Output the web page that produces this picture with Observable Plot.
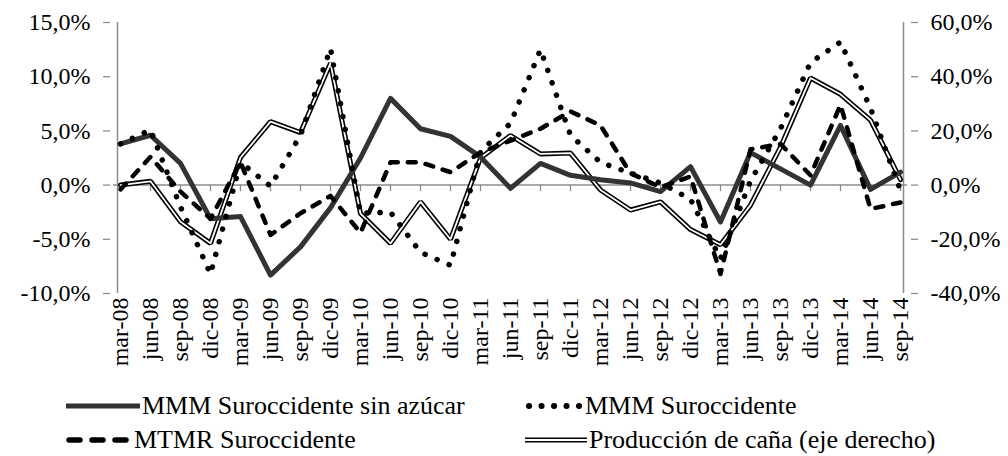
<!DOCTYPE html>
<html>
<head>
<meta charset="utf-8">
<script src="https://cdn.jsdelivr.net/npm/d3@7"></script>
<script src="https://cdn.jsdelivr.net/npm/@observablehq/plot@0.6"></script>
<style>
  html, body { margin: 0; padding: 0; background: #fff; }
  body { width: 1008px; height: 456px; overflow: hidden; font-family: "Liberation Serif", "Times New Roman", serif; }
  #chart { position: relative; width: 1008px; height: 385px; }
  #legend { position: relative; width: 1008px; height: 71px; font-family: "Liberation Serif", serif; font-size: 26px; color: #000; }
  .item { position: absolute; display: flex; align-items: center; white-space: nowrap; height: 30px; line-height: 30px; }
  .item svg { margin-right: 2px; flex: none; }
</style>
</head>
<body>
<div id="chart"></div>
<div id="legend"></div>
<script>
const labels = ["mar-08","jun-08","sep-08","dic-08","mar-09","jun-09","sep-09","dic-09","mar-10","jun-10","sep-10","dic-10","mar-11","jun-11","sep-11","dic-11","mar-12","jun-12","sep-12","dic-12","mar-13","jun-13","sep-13","dic-13","mar-14","jun-14","sep-14"];

// Left axis (%)
const mmmSinAzucar = [3.8, 4.6, 2.0, -3.1, -2.9, -8.3, -5.7, -2.1, 2.5, 8.0, 5.2, 4.5, 2.6, -0.3, 2.0, 0.9, 0.5, 0.2, -0.6, 1.7, -3.4, 3.0, 1.5, 0.0, 5.5, -0.4, 1.2];
const mmmSuroccidente = [3.8, 5.1, -2.0, -8.2, 2.1, -0.1, 4.6, 12.6, -2.6, -2.5, -6.2, -7.4, 3.1, 5.7, 12.5, 4.6, 2.1, 1.1, 0.2, -1.3, -6.8, 0.4, 5.2, 11.3, 13.2, 7.1, -0.5];
const mtmrSuroccidente = [-0.4, 2.6, -0.6, -3.1, 2.1, -4.6, -2.6, -1.0, -4.4, 2.1, 2.1, 1.2, 3.0, 4.1, 5.2, 6.8, 5.5, 1.1, -0.2, 0.8, -8.2, 3.3, 3.8, 0.9, 7.4, -2.2, -1.6];
// Right axis (%)
const produccionCana = [0.0, 1.4, -13.5, -21.5, 10.2, 23.4, 19.4, 45.0, -10.5, -21.5, -6.2, -20.0, 10.0, 18.3, 11.5, 11.8, -1.8, -9.2, -6.2, -16.4, -22.0, -7.4, 14.0, 39.5, 33.5, 24.0, 2.0];

const leftTicks = [-10, -5, 0, 5, 10, 15];
const rightTicks = [-40, -20, 0, 20, 40, 60];
const ratio = 4; // right axis value / left axis value

const seriesNames = ["MMM Suroccidente sin azúcar", "MMM Suroccidente", "MTMR Suroccidente", "Producción de caña (eje derecho)"];

const fmt = v => v.toFixed(1).replace(".", ",") + "%";
const rows = (vals, scale = 1) => labels.map((l, i) => ({label: l, value: vals[i] / scale}));

const W = 1008, H = 385;
const axisColor = "#8c8c8c";
const font = "Liberation Serif, Times New Roman, serif";

const plot = Plot.plot({
  width: W,
  height: H,
  marginTop: 22,
  marginBottom: 92,
  marginLeft: 113,
  marginRight: 101,
  style: {fontFamily: font, background: "#fff", color: "#000", overflow: "visible"},
  x: {type: "point", domain: labels, padding: 0.1, label: null},
  y: {type: "linear", domain: [-10, 15], label: null},
  marks: [
    // axis lines
    Plot.ruleX([labels[0]], {y1: -10, y2: 15, stroke: axisColor, strokeWidth: 1.5, dx: -3}),
    Plot.ruleX([labels[labels.length - 1]], {y1: -10, y2: 15, stroke: axisColor, strokeWidth: 1.5, dx: 3}),
    Plot.ruleY([0], {stroke: axisColor, strokeWidth: 1.5}),
    Plot.ruleX(labels, {x: d => d, y1: 0, y2: -0.6, stroke: axisColor, strokeWidth: 1.3}),
    Plot.axisY(leftTicks, {anchor: "left", tickFormat: fmt, tickSize: 7, tickPadding: 13, stroke: axisColor, strokeWidth: 1.3, fontSize: 24, fill: "#000", dx: -3, label: null}),
    Plot.axisY(leftTicks, {anchor: "right", tickFormat: d => fmt(d * ratio), tickSize: 7, tickPadding: 13, stroke: axisColor, strokeWidth: 1.3, fontSize: 24, fill: "#000", dx: 3, label: null}),
    Plot.axisX({anchor: "bottom", tickSize: 0, tickPadding: 4, tickRotate: -90, fontSize: 24, fill: "#000", label: null}),
    // Producción de caña (double line, right axis)
    Plot.line(rows(produccionCana, ratio), {x: "label", y: "value", stroke: "#000", strokeWidth: 5, strokeLinejoin: "miter"}),
    Plot.line(rows(produccionCana, ratio), {x: "label", y: "value", stroke: "#fff", strokeWidth: 1.8, strokeLinejoin: "miter"}),
    // MMM Suroccidente sin azúcar (solid)
    Plot.line(rows(mmmSinAzucar), {x: "label", y: "value", stroke: "#333", strokeWidth: 5, strokeLinejoin: "round"}),
    // MMM Suroccidente (dotted)
    Plot.line(rows(mmmSuroccidente), {x: "label", y: "value", stroke: "#000", strokeWidth: 5.5, strokeLinecap: "round", strokeDasharray: "0.1 13"}),
    // MTMR Suroccidente (dashed)
    Plot.line(rows(mtmrSuroccidente), {x: "label", y: "value", stroke: "#000", strokeWidth: 4.5, strokeLinecap: "round", strokeDasharray: "8 10"})
  ]
});
document.getElementById("chart").appendChild(plot);

// Legend
const legend = d3.select("#legend");
const items = [
  {name: seriesNames[0], left: 66, top: 6, kind: "solid", w: 74},
  {name: seriesNames[1], left: 525, top: 6, kind: "dotted", w: 58},
  {name: seriesNames[2], left: 66, top: 40, kind: "dashed", w: 66},
  {name: seriesNames[3], left: 525, top: 40, kind: "double", w: 62}
];
items.forEach(it => {
  const div = legend.append("div").attr("class", "item").style("left", it.left + "px").style("top", it.top + "px");
  const sw = div.append("svg").attr("width", it.w).attr("height", 20);
  if (it.kind === "solid") {
    sw.append("line").attr("x1", 0).attr("x2", it.w).attr("y1", 10).attr("y2", 10).attr("stroke", "#333").attr("stroke-width", 5);
  } else if (it.kind === "dotted") {
    sw.append("line").attr("x1", 4).attr("x2", it.w).attr("y1", 10).attr("y2", 10).attr("stroke", "#000").attr("stroke-width", 6).attr("stroke-linecap", "round").attr("stroke-dasharray", "0.1 12.4");
  } else if (it.kind === "dashed") {
    sw.append("line").attr("x1", 3).attr("x2", it.w).attr("y1", 10).attr("y2", 10).attr("stroke", "#000").attr("stroke-width", 5.5).attr("stroke-linecap", "round").attr("stroke-dasharray", "11 12");
  } else {
    sw.append("line").attr("x1", 0).attr("x2", it.w).attr("y1", 10).attr("y2", 10).attr("stroke", "#000").attr("stroke-width", 5);
    sw.append("line").attr("x1", 0).attr("x2", it.w).attr("y1", 10).attr("y2", 10).attr("stroke", "#fff").attr("stroke-width", 1.8);
  }
  div.append("span").text(it.name);
});
</script>
</body>
</html>
